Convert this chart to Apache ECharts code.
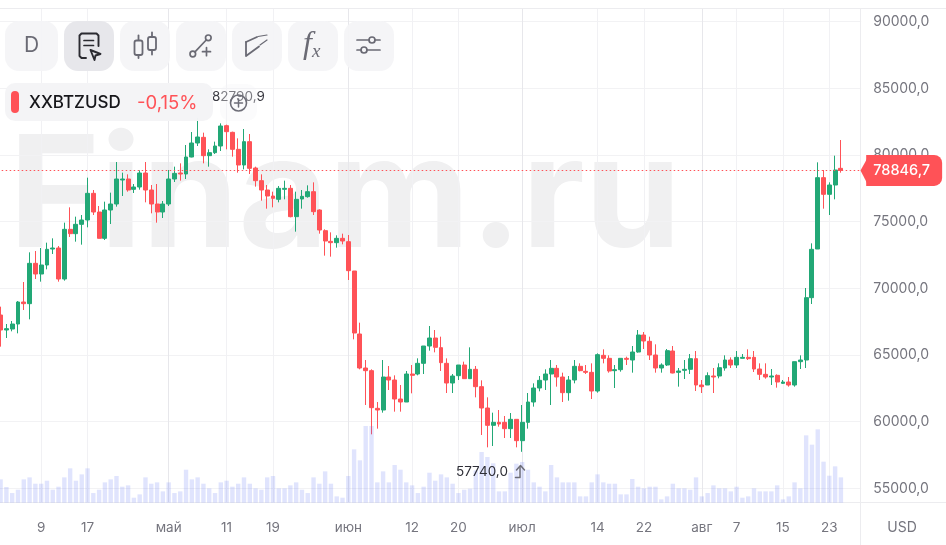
<!DOCTYPE html>
<html><head><meta charset="utf-8">
<style>html,body{margin:0;padding:0;background:#fff}#c{width:946px;height:545px}</style>
<script src="https://cdn.jsdelivr.net/npm/echarts@6/dist/echarts.min.js"></script>
</head><body><div id="c"></div>
<script>
const opens=[68000,66875,66950,67325,68975,68850,71875,71075,71750,72950,
73025,70700,74425,74100,74800,75125,77125,75725,73750,75875,
76325,78125,78200,77425,77600,78650,77375,76325,75725,76325,
78200,78650,78575,79850,80900,81325,79950,80175,80675,82200,
81700,80425,79250,81000,79025,78075,77375,76925,76675,77425,
77500,75375,76700,76875,77250,75875,74325,73525,73425,73750,
73500,71300,66575,64025,63825,61000,60875,63350,63125,61700,
61475,63575,63575,64375,65675,66275,65550,64375,62900,63450,
64250,63225,63925,62625,61025,59725,59950,59950,59475,60175,
58575,59950,61475,62525,63125,63575,64000,63350,62175,63125,
64150,63775,63700,62300,64975,64750,63825,63900,64750,64625,
65225,66500,66025,65000,64025,64250,65300,63700,63850,63925,
64725,62750,62750,63425,63425,64025,64625,64250,64750,64825,
64825,63950,63550,63350,63475,62875,62975,62750,64500,64625,
69300,72950,78300,77050,77750,79000];
const closes=[66875,66975,67325,68975,68850,71875,71075,71750,72925,73025,
70700,74425,74100,74800,75125,77125,75725,73750,75875,76325,
78200,78200,77375,77600,78650,77375,76325,75725,76325,78200,
78625,78575,79850,80900,81350,79950,80175,80675,82175,81750,
80425,79250,81000,79000,78075,77375,76925,76750,77500,77500,
75375,76675,76900,77250,75750,74375,73550,73425,73750,73550,
71325,66650,64025,63825,61050,60875,63350,63125,61700,61475,
63575,63475,64375,65675,66275,65575,64425,62900,63425,64250,
63225,63925,62625,61025,59725,59950,59825,59475,60175,58575,
59950,61475,62525,63100,63575,64000,63350,62175,63125,64150,
63825,63700,62300,65025,64750,63800,63900,64750,64675,65225,
66500,66050,65000,64025,64250,65325,63650,63800,63925,64725,
62750,62625,63450,63350,64050,64625,64250,64825,64825,64725,
63950,63550,63350,63425,62975,62975,62750,64500,64625,69300,
72925,78300,77050,77750,78875,78846.7];
const lows=[65625,66275,66775,66625,68375,67675,70700,70500,71425,72575,
70500,70575,73850,73500,73275,74575,75500,73750,73625,74825,
76125,76925,77250,77150,77400,76450,75625,74925,75275,76175,
77975,78075,78200,79825,80675,79375,79125,80075,80300,80425,
79875,78675,78925,78575,77625,76575,75975,76075,76450,76675,
75325,74250,75975,76800,75500,74100,72450,72375,73050,73300,
70625,66175,63925,61250,59050,59475,60675,62375,60750,60750,
61475,62125,63475,63575,65325,65200,63800,62150,62150,63125,
63225,63225,61825,59000,58075,58175,59625,58775,58775,58075,
57740,59475,61125,62275,62375,61250,62625,61475,61575,62875,
63775,63575,61700,62175,64375,63675,62525,63750,64250,63675,
65175,65450,64625,63675,63675,64175,63625,62625,63200,63575,
62300,62150,62750,62150,63250,63825,64025,64025,64750,64625,
63725,63125,63225,62750,62550,62825,62625,62625,63950,64025,
68825,72950,75975,75500,76675,78675];
const highs=[68625,67325,67550,69050,70475,72700,72800,73025,73425,73750,
73175,74925,76075,75375,75500,78300,77375,76175,76500,77175,
79475,78675,78550,77825,78850,79475,77750,77825,76550,78875,
79125,79375,80750,81725,82790.9,81675,80425,81000,82375,82275,
81750,81250,81950,81575,79125,78550,77750,77250,77675,78075,
77750,77250,77375,77725,77950,75925,74425,74200,73975,74100,
74000,71300,67425,64625,63925,61475,64625,64175,63475,62750,
63800,64250,64750,65675,67175,66875,66375,64750,63575,64250,
64500,65575,64175,63100,61825,60675,60875,60425,60650,60175,
61250,62150,62875,63425,63925,64625,64250,63675,63425,64625,
64375,64250,64375,65125,65425,64975,64250,64750,64875,65675,
66875,66725,66375,65800,64375,65450,65675,64025,64625,65075,
65300,63125,63700,64025,64375,64975,64825,65300,65075,65425,
65300,64375,64375,63950,63550,63125,63350,64500,64975,70025,
73375,79450,78875,77950,79950,81125];
const volumes=[70,47,29,39,70,76,57,57,66,39,
48,76,103,66,85,103,29,39,61,70,
80,48,52,15,25,76,57,61,34,61,
29,34,99,70,76,57,43,29,61,66,
48,57,76,57,43,39,76,80,43,43,
52,61,39,29,76,57,94,57,19,15,
80,160,127,230,230,61,94,61,113,99,
61,52,29,48,90,66,85,76,57,29,
39,42,97,152,137,118,34,34,90,117,
122,99,61,48,34,113,76,61,61,61,
19,19,61,85,61,57,57,25,25,71,
48,43,48,48,10,19,57,43,43,39,
76,19,29,52,43,43,34,48,15,19,
43,34,34,34,52,10,19,61,43,202,
174,220,123,81,109,76];
const tickIndex=[7,15,29,39,47,60,71,79,90,103,111,121,127,135,143];
const tickLabels=['9','17','май','11','19','июн','12','20','июл','14','22','авг','7','15','23'];
const monthTicks=['май','июн','июл','авг'];
const lastPrice=78846.7;
const highLabel='82790,9', lowLabel='57740,0', symbolName='XXBTZUSD', changeText='-0,15%', currency='USD', watermark='Finam.ru';

const N=149, UP='#22A876', DOWN='#FF5257', TXT='#75757E', ICON='#6A6A74', FONT='Inter';
const cats=Array.from({length:N},(_,i)=>{const d=new Date(Date.UTC(2024,3,2+i));return d.toISOString().slice(5,10);});
const fmt=v=>Number(v).toFixed(1).replace('.',',');
const isTick=i=>tickIndex.includes(i);

function chip(x,y,w,h,r,fill){return{type:'rect',z:100,shape:{x,y,width:w,height:h,r},style:{fill}};}
function ln(x1,y1,x2,y2,stroke,lineWidth,z){return{type:'line',z:z===undefined?101:z,shape:{x1,y1,x2,y2},style:{stroke,lineWidth:lineWidth||1.7,lineCap:'round',fill:null}};}
function pl(points,stroke,lineWidth,dash){return{type:'polyline',z:101,shape:{points},style:{stroke,lineWidth:lineWidth||1.7,fill:null,lineCap:'round',lineJoin:'round',lineDash:dash||null}};}
function pg(points,stroke,lineWidth){return{type:'polygon',z:101,shape:{points},style:{stroke,lineWidth:lineWidth||1.7,fill:'none',lineJoin:'round'}};}
function circ(cx,cy,r,stroke,lw){return{type:'circle',z:101,shape:{cx,cy,r},style:{stroke,lineWidth:lw||1.7,fill:'none'}};}
function txt(text,x,y,fontSize,fill,extra,z){return {type:'text',z:z||102,style:Object.assign({text,x,y,fontSize,fill,fontFamily:FONT,textAlign:'left',textVerticalAlign:'middle'},extra||{})};}

const CH='rgba(244,244,246,0.93)', SEL='rgba(230,230,234,0.96)', DOC='#2B2B31';
const graphics=[
 {type:'text',z:-10,style:{text:watermark,x:9,y:277.5,fontSize:155,fontWeight:700,fontFamily:FONT,fill:'#F0F0F1',textAlign:'left',textVerticalAlign:'bottom'}},
 ln(0,8.5,946,8.5,'#ECECEF',1,1),
 ln(0,502.5,946,502.5,'#ECECEF',1,1),
 ln(860.5,8.5,860.5,545,'#ECECEF',1,1),
 chip(5,21,53,50,14,CH),chip(64,21,50,50,14,SEL),chip(120,21,50,50,14,CH),chip(176,21,50,50,14,CH),chip(232,21,50,50,14,CH),chip(288,21,50,50,14,CH),chip(344,21,50,50,14,CH),
 txt('D',31.5,46,21,ICON,{textAlign:'center'}),
 pl([[86,58],[81.5,58],[79.5,56],[79.5,35.5],[81.5,33.5],[96.5,33.5],[98.5,35.5],[98.5,46]],DOC,1.9),
 ln(84,40.5,93.5,40.5,DOC,1.7),ln(84,45.5,93.5,45.5,DOC,1.7),
 pg([[90.5,50],[100.5,54],[95.5,55.5],[94.5,60]],DOC,1.9),
 {type:'rect',z:101,shape:{x:134.5,y:40.5,width:8,height:14.5,r:2},style:{stroke:ICON,lineWidth:1.8,fill:'none'}},
 {type:'rect',z:101,shape:{x:148,y:37,width:8,height:13,r:2},style:{stroke:ICON,lineWidth:1.8,fill:'none'}},
 ln(138.5,35.5,138.5,40,ICON,1.8),ln(138.5,55.5,138.5,58,ICON,1.8),ln(152,32.5,152,36.5,ICON,1.8),ln(152,50.5,152,54.5,ICON,1.8),
 circ(192.8,54,2.8,ICON),circ(208.3,37.8,2.8,ICON),ln(195,51.8,206.2,40,ICON),ln(202.5,51.7,210.5,51.7,ICON),ln(206.5,47.7,206.5,55.7,ICON),
 pl([[246,42],[246,56],[259,46.5]],ICON,1.8),ln(246,42,257,37,ICON,1.8),
 ln(258,36.5,267,35,ICON,1.2),ln(260,45,267,40,ICON,1.2),
 txt('f',303,45,32,ICON,{fontFamily:'Liberation Serif',fontStyle:'italic'}),
 txt('x',312,52,19,ICON,{fontFamily:'Liberation Serif',fontStyle:'italic'}),
 ln(357,40,369,40,ICON),ln(375,40,380,40,ICON),circ(372,40,3,ICON),ln(357,50,361,50,ICON),ln(367,50,380,50,ICON),circ(364,50,3,ICON),
 {type:'polygon',z:50,shape:{points:[[860.5,170.5],[868,157],[868,185]]},style:{fill:DOWN}},
 txt(highLabel,212,97,13.5,'#3C3C44',{},90),
 chip(220,84,37,37,10,'rgba(244,244,246,0.35)'),
 circ(238.5,103,8,'#6E6E78',1.6),ln(234.5,103,242.5,103,'#6E6E78',1.5),ln(238.5,99,238.5,107,'#6E6E78',1.5),
 chip(5,83,208,38,10,'rgba(244,244,246,0.98)'),
 {type:'rect',z:101,shape:{x:11,y:91,width:8,height:22,r:4},style:{fill:DOWN}},
 txt(symbolName,29,103,17,'#16161A',{fontWeight:500}),
 txt(changeText,137,103,18.5,DOWN,{}),
 txt(lowLabel,456,472,13.5,'#2E2E36',{}),
 pl([[515.5,477.5],[520,477.5],[520,467]],'#6E6E78',1.5),pl([[516.5,470],[520.5,465.5],[524.5,470]],'#6E6E78',1.5),
 txt(currency,902,527.5,14,TXT,{textAlign:'center'})
];

const option={
 animation:false,backgroundColor:'#fff',
 grid:[
  {left:-2.3,width:863.5,top:8.5,height:494.2,outerBoundsMode:'none'},
  {left:-2.3,width:863.5,top:-45,height:600,outerBoundsMode:'none'}
 ],
 xAxis:[
  {type:'category',gridIndex:0,data:cats,boundaryGap:true,
   axisLine:{show:false},axisTick:{show:false,alignWithLabel:true,interval:(i)=>isTick(i)},
   axisLabel:{interval:(i)=>isTick(i),formatter:(v,i)=>tickLabels[tickIndex.indexOf(i)]||'',margin:18,fontSize:13.5,fontFamily:FONT,color:TXT,hideOverlap:false},
   splitLine:{show:true,alignWithLabel:true,interval:(i)=>isTick(i),lineStyle:{width:1,color:tickLabels.map(t=>monthTicks.includes(t)?'#E7E7EB':'#F1F1F4')}}},
  {type:'category',gridIndex:1,data:cats,boundaryGap:true,show:false,axisLine:{show:false},axisTick:{show:false},axisLabel:{show:false},splitLine:{show:false}}
 ],
 yAxis:[
  {type:'value',gridIndex:0,show:false,min:0,max:1482,splitLine:{show:false}},
  {type:'value',gridIndex:1,position:'right',min:50000,max:95000,interval:5000,
   axisLine:{show:false},axisTick:{show:false},
   axisLabel:{margin:12,fontSize:14,fontFamily:FONT,color:TXT,padding:[4,0,0,0],formatter:v=>fmt(v)},
   splitLine:{show:true,lineStyle:{color:'#F2F2F4',width:1}}}
 ],
 series:[
  {type:'candlestick',name:symbolName,xAxisIndex:1,yAxisIndex:1,z:3,barWidth:4.4,
   data:opens.map((o,i)=>[o,closes[i],lows[i],highs[i]]),
   itemStyle:{color:UP,color0:DOWN,borderColor:UP,borderColor0:DOWN,borderWidth:1},
   markLine:{silent:true,symbol:'none',animation:false,data:[{yAxis:lastPrice}],
    lineStyle:{color:DOWN,type:[1.5,2.5],width:1,opacity:1},
    label:{position:'end',distance:5,formatter:p=>fmt(p.value),color:'#fff',backgroundColor:DOWN,borderRadius:[0,8,8,0],padding:[8,12,8,7],fontSize:14.5,fontFamily:FONT,fontWeight:500}}},
  {type:'bar',name:'volume',xAxisIndex:0,yAxisIndex:0,z:4,barWidth:4.4,
   data:volumes,itemStyle:{color:'rgba(99,120,245,0.2)'}}
 ],
 graphic:{elements:graphics}
};
const chart=echarts.init(document.getElementById('c'),null,{width:946,height:545});
chart.setOption(option);
</script></body></html>
